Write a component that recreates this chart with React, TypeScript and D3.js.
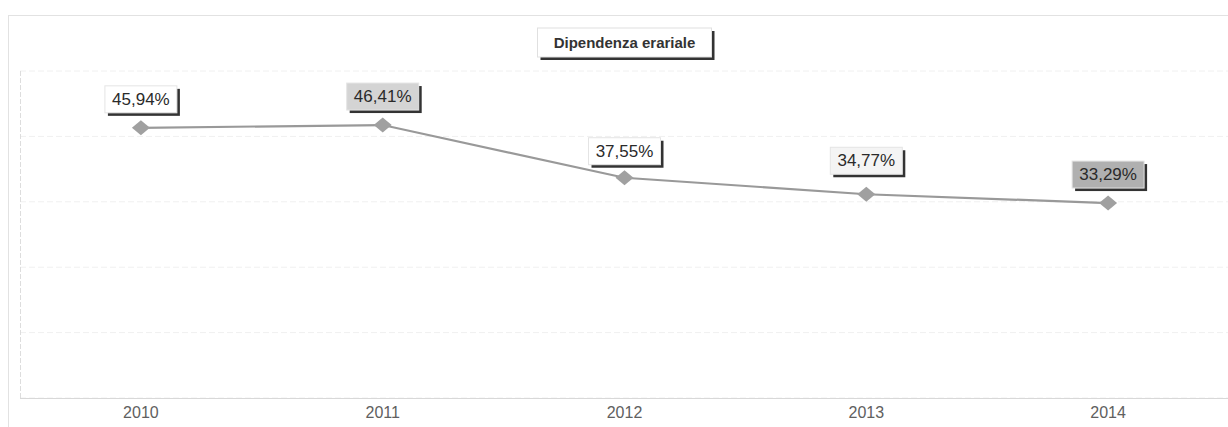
import React from "react";
import * as d3 from "d3";

const categories: string[] = ["2010", "2011", "2012", "2013", "2014"];
const values: number[] = [45.94, 46.41, 37.55, 34.77, 33.29];
const labelFills: string[] = ["#ffffff", "#d4d4d4", "#ffffff", "#f4f4f4", "#b0b0b0"];
const chartTitle = "Dipendenza erariale";
const yDomain: [number, number] = [0, 55.5];
const gridCount = 5;

const W = 1228;
const H = 427;
const plot = { left: 20, right: 1229, top: 71, bottom: 398 };

const fmt = (v: number) => v.toFixed(2).replace(".", ",") + "%";

export default function App() {
  const x = d3.scaleBand<string>().domain(categories).range([plot.left, plot.right]).padding(0);
  const y = d3.scaleLinear().domain(yDomain).range([401, plot.top]);
  const cx = (c: string) => (x(c) as number) + x.bandwidth() / 2;
  const line = d3
    .line<number>()
    .x((_, i) => cx(categories[i]))
    .y((d) => y(d));
  const gridYs = d3.range(gridCount + 1).map((i) => plot.top + ((plot.bottom - plot.top) * i) / gridCount);
  const diamond = "M0,-7.5L9,0L0,7.5L-9,0Z";
  const labelOffsets = [15, 15, 13, 20, 15];

  return (
    <div style={{ position: "absolute", left: 0, top: 0 }}>
      <svg width={W} height={H} style={{ display: "block", background: "#fff", fontFamily: "Arial, 'Liberation Sans', sans-serif" }}>
        <rect x={8.5} y={15.5} width={W} height={H} fill="none" stroke="#e2e2e2" strokeWidth={1} />
        {gridYs.map((gy, i) => (
          <line key={i} x1={plot.left} x2={plot.right} y1={gy} y2={gy} stroke="#f0f0f0" strokeWidth={1} strokeDasharray="6,3" />
        ))}
        <line x1={plot.left + 0.5} x2={plot.left + 0.5} y1={plot.top} y2={plot.bottom} stroke="#dddddd" strokeDasharray="5,2" />
        <line x1={plot.left} x2={plot.right} y1={plot.bottom + 0.5} y2={plot.bottom + 0.5} stroke="#d8d8d8" />
        <g transform={`translate(${(plot.left + plot.right) / 2},0)`}>
          <rect x={-84} y={31} width={174} height={29} fill="#333" />
          <rect x={-87} y={28} width={174} height={29} fill="#fff" stroke="#e0e0e0" />
          <text x={0} y={48} textAnchor="middle" fontSize={15} fontWeight="bold" fill="#333">
            {chartTitle}
          </text>
        </g>
        <path d={line(values) || ""} fill="none" stroke="#999999" strokeWidth={2.2} />
        {values.map((v, i) => (
          <path key={i} d={diamond} transform={`translate(${cx(categories[i])},${y(v)})`} fill="#a0a0a0" />
        ))}
        {values.map((v, i) => {
          const px = cx(categories[i]);
          const bottom = y(v) - labelOffsets[i];
          const w = 72;
          const h = 27;
          return (
            <g key={i}>
              <rect x={px - w / 2 + 3} y={bottom - h + 3} width={w} height={h} fill="#333" />
              <rect x={px - w / 2} y={bottom - h} width={w} height={h} fill={labelFills[i]} stroke="#e4e4e4" />
              <text x={px} y={bottom - 8} textAnchor="middle" fontSize={17} fill="#2a2a2a">
                {fmt(v)}
              </text>
            </g>
          );
        })}
        {categories.map((c, i) => (
          <text key={i} x={cx(c)} y={418} textAnchor="middle" fontSize={16} fill="#606060">
            {c}
          </text>
        ))}
      </svg>
    </div>
  );
}
